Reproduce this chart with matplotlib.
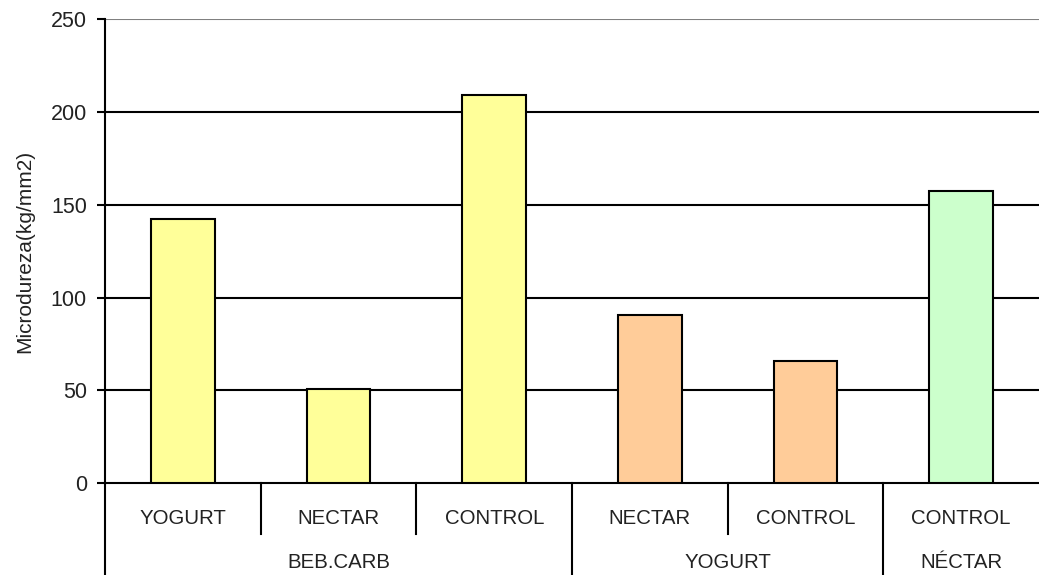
import numpy as np
import matplotlib.pyplot as plt
import matplotlib.transforms as mtransforms
from matplotlib.lines import Line2D

# microhardness per beverage / subgroup
subgroups = ['YOGURT', 'NECTAR', 'CONTROL', 'NECTAR', 'CONTROL', 'CONTROL']
groups = ['BEB.CARB', 'YOGURT', 'NÉCTAR']
group_sizes = [3, 2, 1]
values = [142.2, 50.8, 209.0, 90.7, 65.9, 157.4]
colors = ['#FFFF99', '#FFFF99', '#FFFF99', '#FFCC99', '#FFCC99', '#CCFFCC']

plt.rcParams['font.family'] = ['Liberation Sans', 'DejaVu Sans']

fig = plt.figure(figsize=(10.39, 5.75), dpi=100)
ax = fig.add_axes([0.1011, 0.1595, 0.8989, 0.8075])

x = np.arange(len(values))
ax.bar(x, values, width=0.41, color=colors, edgecolor='black', linewidth=1.5, zorder=3)

ax.set_xlim(-0.5, len(values) - 0.5)
ax.set_ylim(0, 250)
ax.set_yticks(np.arange(0, 251, 50))
for y in [50, 100, 150, 200]:
    ax.axhline(y, color='black', linewidth=1.5, zorder=1)
ax.axhline(250, color='#808080', linewidth=1.5, zorder=1)

for s in ['top', 'right']:
    ax.spines[s].set_visible(False)
ax.spines['left'].set_linewidth(1.5)
ax.spines['bottom'].set_linewidth(1.5)
ax.set_xticks([])
ax.tick_params(axis='y', length=6, width=1.5, pad=7, labelsize=15.5, labelcolor='#222222')
ax.set_ylabel('Microdureza(kg/mm2)', fontsize=15, labelpad=12, color='#222222')

# two-level category axis below the plot
trans = mtransforms.blended_transform_factory(ax.transData, fig.transFigure)
y_axis = 0.1595
y_mid = 1 - 534 / 575
for xs in [0.5, 1.5, 3.5]:
    fig.add_artist(Line2D([xs, xs], [y_axis, y_mid], transform=trans, color='black', linewidth=1.5))
for xs in [-0.5, 2.5, 4.5]:
    fig.add_artist(Line2D([xs, xs], [y_axis, 0], transform=trans, color='black', linewidth=1.5))

for xi, lab in zip(x, subgroups):
    fig.text(xi, 1 - 519 / 575, lab, transform=trans, ha='center', va='center', fontsize=14.7, color='#222222')

start = 0
for g, n in zip(groups, group_sizes):
    center = start + (n - 1) / 2
    fig.text(center, 1 - 563 / 575, g, transform=trans, ha='center', va='center', fontsize=14.7, color='#222222')
    start += n

fig.savefig('out.png', dpi=100)
